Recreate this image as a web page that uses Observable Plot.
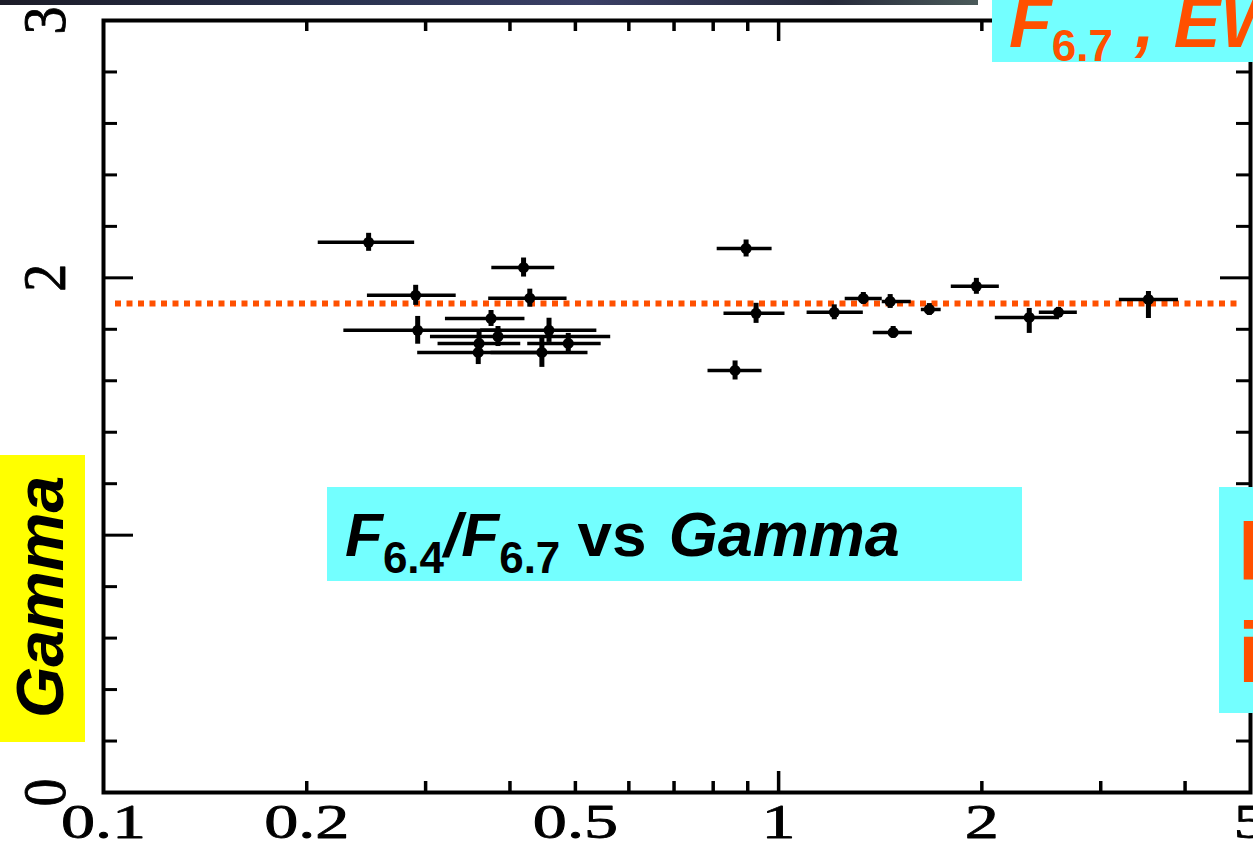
<!DOCTYPE html>
<html><head><meta charset="utf-8">
<script src="https://cdn.jsdelivr.net/npm/d3@7"></script>
<script src="https://cdn.jsdelivr.net/npm/@observablehq/plot@0.6"></script>
<style>
html,body{margin:0;padding:0;background:#fff;}
#wrap{position:relative;width:1253px;height:843px;overflow:hidden;background:#fff;}
#chart{position:absolute;left:0;top:0;background:#fff;}
#ann{position:absolute;left:0;top:0;pointer-events:none;}
</style></head><body>
<div id="wrap">
<div id="chart"></div>
<svg id="ann" width="1253" height="843" font-family="'Liberation Sans', Arial, sans-serif" font-weight="bold">
  <defs>
    <linearGradient id="strip" x1="0" x2="1" y1="0" y2="0">
      <stop offset="0" stop-color="#1c1c28"/>
      <stop offset="0.35" stop-color="#2a3350"/>
      <stop offset="0.6" stop-color="#3a3f66"/>
      <stop offset="0.85" stop-color="#262a3a"/>
      <stop offset="1" stop-color="#4a5a5a"/>
    </linearGradient>
  </defs>
  <rect x="0" y="0" width="978" height="5" fill="url(#strip)"/>
  <rect x="992" y="0" width="261" height="62" fill="#73FFFF"/>
  <text x="1009" y="47" fill="#FF5000" font-size="70" font-style="italic">F<tspan font-size="44" dy="14" font-style="normal">6.7</tspan><tspan dy="-14" dx="22" font-style="italic">, EW</tspan></text>
  <rect x="327" y="487" width="695" height="94" fill="#73FFFF"/>
  <text x="345" y="556" fill="#000" font-size="62" font-style="italic">F<tspan font-size="44" dy="17" font-style="normal">6.4</tspan><tspan dy="-17">/F</tspan><tspan font-size="44" dy="17" font-style="normal">6.7</tspan><tspan dy="-17" font-style="normal"> vs </tspan><tspan dx="5" font-size="63">Gamma</tspan></text>
  <rect x="1219" y="487" width="34" height="226" fill="#73FFFF"/>
  <text x="1238" y="580" fill="#FF5000" font-size="85">Fe</text>
  <text x="1238" y="682" fill="#FF5000" font-size="85">in</text>
  <rect x="0" y="455" width="85" height="287" fill="#FFFF00"/>
  <text transform="translate(63,718) rotate(-90)" fill="#000" font-size="66" font-style="italic">Gamma</text>
</svg>
</div>
<script>
// F6.4/F6.7 ratio (x) with its error range, and photon index Gamma (y)
const ratio   = [0.247, 0.290, 0.292, 0.419, 0.428, 0.375, 0.384, 0.360, 0.359, 0.457, 0.488, 0.446, 0.895, 0.926, 0.862, 1.209, 1.335, 1.463, 1.478, 1.672, 1.963, 2.351, 2.597, 3.530];
const ratioLo = [0.208, 0.246, 0.227, 0.376, 0.372, 0.321, 0.305, 0.313, 0.292, 0.362, 0.425, 0.375, 0.811, 0.830, 0.786, 1.102, 1.255, 1.424, 1.381, 1.627, 1.802, 2.094, 2.433, 3.197];
const ratioHi = [0.289, 0.333, 0.388, 0.466, 0.486, 0.421, 0.564, 0.415, 0.445, 0.538, 0.546, 0.522, 0.978, 1.022, 0.945, 1.335, 1.424, 1.572, 1.578, 1.741, 2.123, 2.606, 2.770, 3.911];
const gamma   = [2.138, 1.932, 1.796, 2.040, 1.921, 1.842, 1.772, 1.745, 1.710, 1.796, 1.745, 1.710, 2.114, 1.862, 1.640, 1.866, 1.920, 1.908, 1.788, 1.877, 1.967, 1.846, 1.866, 1.916];
const gammaErrLo = [0.035, 0.039, 0.054, 0.037, 0.035, 0.031, 0.039, 0.047, 0.047, 0.047, 0.039, 0.058, 0.033, 0.039, 0.037, 0.029, 0.023, 0.027, 0.023, 0.023, 0.031, 0.062, 0.019, 0.074];
const gammaErrHi = [0.035, 0.039, 0.054, 0.037, 0.035, 0.031, 0.039, 0.047, 0.047, 0.047, 0.039, 0.058, 0.033, 0.039, 0.037, 0.029, 0.023, 0.027, 0.023, 0.023, 0.031, 0.035, 0.019, 0.031];
const meanGamma = [1.9];

const xTickLabels = [0.1, 0.2, 0.5, 1, 2, 5];
const xMinorTicks = [0.2, 0.3, 0.4, 0.5, 0.6, 0.7, 0.8, 0.9, 2, 3, 4];
const xMajorTicks = [1];
const yTickLabels = [0, 1, 2, 3];
const yMinorTicks = [0.2, 0.4, 0.6, 0.8, 1.2, 1.4, 1.6, 1.8, 2.2, 2.4, 2.6, 2.8];
const yMajorTicks = [1, 2];

const W = 1253, H = 843, mL = 103, mR = 3, mT = 20, mB = 51;
const pw = W - mL - mR, ph = H - mT - mB;
const points = ratio.map((r, i) => ({
  r, lo: ratioLo[i], hi: ratioHi[i], g: gamma[i],
  gl: gamma[i] - gammaErrLo[i], gh: gamma[i] + gammaErrHi[i]
}));
const ink = {stroke: "black", strokeWidth: 3.5};
const serif = "'Liberation Serif', 'Times New Roman', serif";

const chart = Plot.plot({
  width: W, height: H,
  marginLeft: mL, marginRight: mR, marginTop: mT, marginBottom: mB,
  x: {type: "log", domain: [0.1, 5], axis: null},
  y: {domain: [0, 3], axis: null},
  style: {background: "white", overflow: "visible"},
  marks: [
    Plot.ruleX(xMinorTicks, {x: d => d, insetTop: ph - 11, ...ink}),
    Plot.ruleX(xMinorTicks, {x: d => d, insetBottom: ph - 11, ...ink}),
    Plot.ruleX(xMajorTicks, {x: d => d, insetTop: ph - 21, ...ink}),
    Plot.ruleX(xMajorTicks, {x: d => d, insetBottom: ph - 21, ...ink}),
    Plot.ruleY(yMinorTicks, {y: d => d, insetRight: pw - 14, ...ink, strokeWidth: 3}),
    Plot.ruleY(yMinorTicks, {y: d => d, insetLeft: pw - 14, ...ink, strokeWidth: 3}),
    Plot.ruleY(yMajorTicks, {y: d => d, insetRight: pw - 30, ...ink, strokeWidth: 3}),
    Plot.ruleY(yMajorTicks, {y: d => d, insetLeft: pw - 30, ...ink, strokeWidth: 3}),
    Plot.ruleY(meanGamma, {y: d => d, stroke: "#FF5000", strokeWidth: 6, strokeDasharray: "6,5.5", insetLeft: 12, insetRight: 10}),
    Plot.ruleY(points, {y: "g", x1: "lo", x2: "hi", stroke: "black", strokeWidth: 3.5}),
    Plot.ruleX(points, {x: "r", y1: "gl", y2: "gh", stroke: "black", strokeWidth: 5}),
    Plot.dot(points, {x: "r", y: "g", r: 5.5, fill: "black"}),
    Plot.frame({stroke: "black", strokeWidth: 4}),
    Plot.text(xTickLabels, {x: d => d, text: d => String(d), frameAnchor: "bottom", dy: 30,
      textAnchor: "middle", lineAnchor: "middle", fontSize: 48, fontFamily: serif,
      fill: "black", stroke: "black", strokeWidth: 0.8}),
    Plot.text(yTickLabels, {y: d => d, text: d => String(d), frameAnchor: "left", dx: -58, rotate: -90,
      textAnchor: "middle", lineAnchor: "middle", fontSize: 56, fontFamily: serif,
      fill: "black", stroke: "black", strokeWidth: 0.8})
  ]
});
document.getElementById("chart").appendChild(chart);
// the original figure is horizontally stretched: widen its serif tick labels accordingly
chart.querySelectorAll("text").forEach(el => {
  const t = el.getAttribute("transform");
  if (!t) return;
  const s = t.includes("rotate") ? "scale(1,1.08)" : "scale(1.42,1)";
  el.setAttribute("transform", `${t} ${s}`);
});
</script>
</body></html>
